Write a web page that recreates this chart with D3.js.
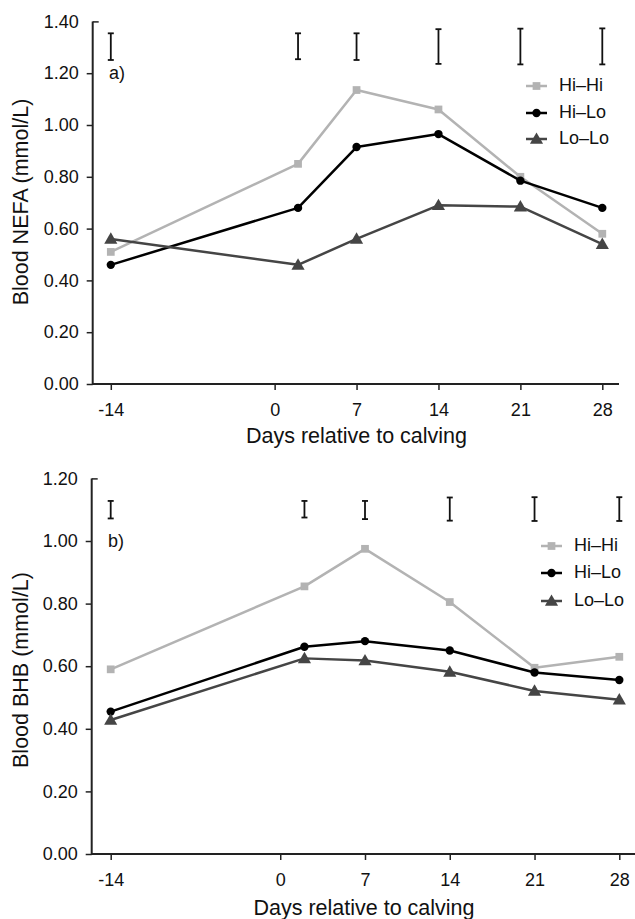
<!DOCTYPE html>
<html><head><meta charset="utf-8">
<script src="https://cdn.jsdelivr.net/npm/d3@7"></script>
<style>
html,body{margin:0;padding:0;background:#fff;}
svg{display:block;font-family:"Liberation Sans",Arial,sans-serif;}
</style></head>
<body>
<svg id="chart" width="635" height="919"></svg>
<script>
// ---- data ----
const days = [-14, 2, 7, 14, 21, 28];
const xTicks = [-14, 0, 7, 14, 21, 28];
const seriesNames = ["Hi\u2013Hi", "Hi\u2013Lo", "Lo\u2013Lo"];

const nefaHiHi = [0.51, 0.85, 1.135, 1.06, 0.80, 0.58];
const nefaHiLo = [0.46, 0.68, 0.915, 0.965, 0.785, 0.68];
const nefaLoLo = [0.56, 0.46, 0.56, 0.69, 0.685, 0.54];
const nefaErrTop = [1.354, 1.354, 1.354, 1.370, 1.372, 1.373];
const nefaErrBottom = [1.251, 1.254, 1.251, 1.236, 1.234, 1.234];
const nefaTicks = [0, 0.2, 0.4, 0.6, 0.8, 1.0, 1.2, 1.4];

const bhbHiHi = [0.59, 0.855, 0.975, 0.805, 0.595, 0.63];
const bhbHiLo = [0.455, 0.662, 0.68, 0.65, 0.58, 0.556];
const bhbLoLo = [0.428, 0.625, 0.618, 0.582, 0.521, 0.493];
const bhbErrTop = [1.128, 1.128, 1.128, 1.139, 1.14, 1.14];
const bhbErrBottom = [1.072, 1.075, 1.07, 1.065, 1.064, 1.064];
const bhbTicks = [0, 0.2, 0.4, 0.6, 0.8, 1.0, 1.2];

// ---- styles ----
const colors = ["#b3b3b3", "#000000", "#454545"];
const symbols = [d3.symbolSquare, d3.symbolCircle, d3.symbolTriangle];
const symSizes = [60, 55, 75];

const svg = d3.select("#chart");
svg.append("rect").attr("width", 635).attr("height", 919).attr("fill", "#fff");

function panel(cfg) {
  const g = svg.append("g");
  const x = d3.scaleLinear().domain([-14, 28]).range(cfg.xRange);
  const y = d3.scaleLinear().domain([0, cfg.yMax]).range(cfg.yRange);
  const axisColor = "#222";

  // x axis
  const xa = g.append("g").attr("transform", `translate(0,${cfg.yRange[0]})`)
    .call(d3.axisBottom(x).tickValues(xTicks).tickFormat(d => String(d)).tickSize(6).tickSizeOuter(0));
  xa.select(".domain").remove();
  xa.append("line").attr("x1", cfg.axisX).attr("x2", cfg.xEnd).attr("y1", 0).attr("y2", 0)
    .attr("stroke", axisColor).attr("stroke-width", 2);
  xa.selectAll(".tick line").attr("stroke", axisColor).attr("stroke-width", 1.5);
  xa.selectAll(".tick text").attr("font-size", 18).attr("fill", "#111").attr("dy", "1.25em")
    .attr("font-family", "Liberation Sans, Arial, sans-serif");

  // y axis
  const ya = g.append("g").attr("transform", `translate(${cfg.axisX},0)`)
    .call(d3.axisLeft(y).tickValues(cfg.yTicks).tickFormat(d3.format(".2f")).tickSize(6).tickSizeOuter(0).tickPadding(8));
  ya.select(".domain").remove();
  ya.append("line").attr("x1", 0).attr("x2", 0).attr("y1", cfg.yRange[0] + 1).attr("y2", cfg.yRange[1])
    .attr("stroke", axisColor).attr("stroke-width", 2);
  ya.selectAll(".tick line").attr("stroke", axisColor).attr("stroke-width", 1.5)
    .attr("x2", d => d === cfg.yMax ? 6 : -6);
  ya.selectAll(".tick text").attr("font-size", 18).attr("fill", "#111")
    .attr("font-family", "Liberation Sans, Arial, sans-serif");

  // axis titles
  g.append("text").attr("x", cfg.xTitleX).attr("y", cfg.xTitleY).attr("text-anchor", "middle")
    .attr("dominant-baseline", "middle").attr("font-size", 21.5).attr("fill", "#111").text("Days relative to calving");
  g.append("text").attr("transform", `translate(${cfg.yTitleX},${cfg.yTitleY}) rotate(-90)`)
    .attr("text-anchor", "middle").attr("dominant-baseline", "middle").attr("font-size", 21.5)
    .attr("fill", "#111").text(cfg.yTitle);

  // panel label
  g.append("text").attr("x", cfg.labelX).attr("y", cfg.labelY).attr("dominant-baseline", "middle")
    .attr("font-size", 18).attr("fill", "#111").text(cfg.label);

  // error bars
  const eb = g.append("g").attr("stroke", "#111").attr("stroke-width", 1.8);
  days.forEach((d, i) => {
    const cx = x(d), t = y(cfg.errTop[i]), b = y(cfg.errBottom[i]);
    eb.append("line").attr("x1", cx).attr("x2", cx).attr("y1", t).attr("y2", b);
    eb.append("line").attr("x1", cx - 3).attr("x2", cx + 3).attr("y1", t).attr("y2", t);
    eb.append("line").attr("x1", cx - 3).attr("x2", cx + 3).attr("y1", b).attr("y2", b);
  });

  // series
  const line = d3.line().x((v, i) => x(days[i])).y(v => y(v));
  cfg.series.forEach((vals, s) => {
    g.append("path").datum(vals).attr("d", line).attr("fill", "none")
      .attr("stroke", colors[s]).attr("stroke-width", 2.5).attr("stroke-linejoin", "round");
    g.selectAll(null).data(vals).enter().append("path")
      .attr("d", d3.symbol().type(symbols[s]).size(symSizes[s]))
      .attr("transform", (v, i) => `translate(${x(days[i])},${y(v) + (s === 2 ? 1 : 0)})`)
      .attr("fill", colors[s]);
  });

  // legend
  seriesNames.forEach((name, s) => {
    const ly = cfg.legY[s];
    g.append("line").attr("x1", cfg.legX).attr("x2", cfg.legX + 21).attr("y1", ly).attr("y2", ly)
      .attr("stroke", colors[s]).attr("stroke-width", 2.5);
    g.append("path").attr("d", d3.symbol().type(symbols[s]).size(symSizes[s]))
      .attr("transform", `translate(${cfg.legX + 10.5},${ly + (s === 2 ? 1 : 0)})`).attr("fill", colors[s]);
    g.append("text").attr("x", cfg.legX + 33).attr("y", ly).attr("dominant-baseline", "middle")
      .attr("font-size", 18).attr("fill", "#111").text(name);
  });
}

panel({
  xRange: [110.8, 602.3], yRange: [384, 21.4], yMax: 1.4, yTicks: nefaTicks,
  axisX: 92.7, xEnd: 619,
  xTitleX: 356.5, xTitleY: 437, yTitleX: 22, yTitleY: 202, yTitle: "Blood NEFA (mmol/L)",
  label: "a)", labelX: 109, labelY: 74,
  errTop: nefaErrTop, errBottom: nefaErrBottom,
  series: [nefaHiHi, nefaHiLo, nefaLoLo],
  legX: 526, legY: [86, 113, 139]
});

panel({
  xRange: [110.7, 619.3], yRange: [854, 478.4], yMax: 1.2, yTicks: bhbTicks,
  axisX: 91.7, xEnd: 635,
  xTitleX: 364, xTitleY: 909, yTitleX: 22, yTitleY: 670, yTitle: "Blood BHB (mmol/L)",
  label: "b)", labelX: 108, labelY: 542,
  errTop: bhbErrTop, errBottom: bhbErrBottom,
  series: [bhbHiHi, bhbHiLo, bhbLoLo],
  legX: 541, legY: [546, 573, 601]
});
</script>
</body></html>
